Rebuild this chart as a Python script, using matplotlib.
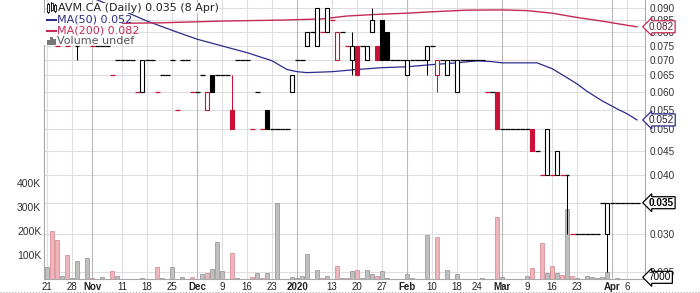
import matplotlib
matplotlib.use("Agg")
import matplotlib.pyplot as plt
import matplotlib.transforms as mtrans
import pandas as pd
from matplotlib.patches import Rectangle
from matplotlib.lines import Line2D
from matplotlib.ticker import FixedLocator, NullLocator, NullFormatter

W, H = 700, 293
RED = "#cc1136"
BLUE = "#2b2b8c"
MA_RED = "#c42a55"
GRID = "#dedede"
GRID_DARK = "#b8b8b8"
AXFONT = "Liberation Sans"

# trading calendar (Canadian holidays removed)
holidays = pd.to_datetime(["2019-12-25", "2019-12-26", "2020-01-01", "2020-02-17"])
days = pd.bdate_range("2019-10-21", "2020-04-08")
days = days[~days.isin(holidays)]

# daily closes, None = no bar drawn
closes = [
    0.085, 0.080, 0.075, 0.080, 0.075, None, 0.075, None, 0.080, 0.075,   # 0-9
    0.075, 0.075, 0.075, 0.065, 0.070, 0.070, 0.070, 0.070, 0.060, 0.070,  # 10-19
    0.070, 0.070, 0.060, 0.065, 0.065, 0.070, 0.055, 0.070, 0.070, 0.060,  # 20-29
    0.060, 0.065, 0.060, 0.060, 0.065, 0.065, 0.065, 0.050, 0.070, 0.070,  # 30-39
    0.070, 0.050, 0.060, 0.050, 0.050, 0.050, 0.050, 0.050, 0.050, 0.065,  # 40-49
    0.070, 0.070, 0.080, 0.080, 0.090, 0.080, 0.090, 0.085, 0.080, 0.080,  # 50-59
    0.075, 0.075, 0.065, 0.075, 0.075, 0.085, 0.070, 0.070, 0.070, 0.070,  # 60-69
    0.070, 0.070, 0.070, 0.070, 0.070, 0.070, 0.075, 0.075, 0.070, 0.070,  # 70-79
    0.070, 0.070, 0.070, 0.070, 0.070, 0.070, 0.070, 0.070, 0.060, 0.060,  # 80-89
    0.050, 0.050, 0.050, 0.050, 0.050, 0.050, 0.050, 0.045, 0.045, 0.040,  # 90-99
    0.050, 0.040, 0.045, 0.040, 0.040, 0.030, 0.030, 0.030, 0.030, 0.030,  # 100-109
    0.030, 0.035, 0.035, 0.035, 0.035, 0.035, 0.035, 0.035, 0.035,         # 110-118
]

# days that are not flat: index -> (open, high, low)
bodies = {
    6: (0.075, 0.075, 0.070), 19: (0.060, 0.070, 0.060),
    32: (0.055, 0.060, 0.055), 33: (0.065, 0.065, 0.060),
    37: (0.055, 0.065, 0.050), 44: (0.055, 0.055, 0.050),
    49: (0.060, 0.065, 0.060), 52: (0.075, 0.080, 0.075),
    54: (0.075, 0.090, 0.075), 56: (0.080, 0.090, 0.080),
    58: (0.070, 0.080, 0.070), 61: (0.070, 0.080, 0.065),
    62: (0.075, 0.075, 0.065), 64: (0.070, 0.075, 0.070),
    65: (0.080, 0.090, 0.080), 66: (0.075, 0.075, 0.070),
    67: (0.085, 0.085, 0.070), 68: (0.080, 0.080, 0.070),
    72: (0.065, 0.070, 0.065), 76: (0.070, 0.075, 0.065),
    78: (0.065, 0.070, 0.060), 80: (0.065, 0.070, 0.065),
    82: (0.060, 0.070, 0.060), 90: (0.060, 0.060, 0.050),
    97: (0.050, 0.050, 0.045), 100: (0.040, 0.050, 0.040),
    102: (0.040, 0.045, 0.040), 104: (0.040, 0.040, 0.030),
    112: (0.030, 0.035, 0.025),
}

# volume, thousands of shares
volume_k = [
    50, 200, 163, 12, 100, 5, 76, 0, 88, 6,
    2, 7, 0, 34, 12, 0, 0, 0, 2, 6,
    0, 0, 50, 3, 0, 50, 2, 7, 0, 7,
    0, 22, 26, 41, 153, 34, 0, 110, 4, 0,
    0, 10, 25, 3, 25, 0, 316, 0, 0, 8,
    3, 13, 105, 0, 38, 6, 12, 2, 55, 3,
    5, 34, 39, 3, 39, 21, 11, 34, 4, 0,
    0, 0, 21, 5, 0, 2, 182, 0, 173, 0,
    39, 0, 21, 0, 0, 0, 0, 3, 1, 0,
    258, 8, 0, 0, 0, 0, 11, 46, 0, 148,
    25, 54, 25, 15, 290, 11, 3, 0, 11, 7,
    4, 8, 30, 0, 3, 0, 0, 0, 0,
]

# moving averages (day index, value)
ma50_idx = [0, 5, 10, 15, 20, 25, 30, 35, 40, 45, 48, 50, 52, 57, 62, 67, 72,
            77, 82, 86, 89, 91, 96, 98, 101, 104, 106, 108, 111, 114, 116, 118]
ma50 = [0.103, 0.098, 0.0937, 0.0891, 0.0845, 0.0808, 0.0774, 0.0749, 0.0725,
        0.0697, 0.0668, 0.0661, 0.0658, 0.0661, 0.0668, 0.0674, 0.0677, 0.0684,
        0.0690, 0.0697, 0.0694, 0.0690, 0.0690, 0.0690, 0.0671, 0.0642, 0.0623,
        0.0601, 0.0574, 0.0552, 0.0539, 0.0523]
ma200_idx = [0, 15, 23, 35, 47, 55, 60, 67, 72, 77, 84, 91, 96, 101, 106, 111, 116, 118]
ma200 = [0.0834, 0.0836, 0.0838, 0.0845, 0.0849, 0.0854, 0.0866, 0.0874, 0.0878,
         0.0884, 0.0891, 0.0892, 0.0889, 0.0878, 0.0860, 0.0845, 0.0828, 0.0822]

tick_dates = ["2019-10-21", "2019-10-28", "2019-11-01", "2019-11-11", "2019-11-18",
              "2019-11-25", "2019-12-02", "2019-12-09", "2019-12-16", "2019-12-23",
              "2020-01-02", "2020-01-13", "2020-01-20", "2020-01-27", "2020-02-03",
              "2020-02-10", "2020-02-18", "2020-02-24", "2020-03-02", "2020-03-09",
              "2020-03-16", "2020-03-23", "2020-04-01", "2020-04-06"]
tick_text = ["21", "28", "Nov", "11", "18", "25", "Dec", "9", "16", "23", "2020",
             "13", "20", "27", "Feb", "10", "18", "24", "Mar", "9", "16", "23",
             "Apr", "6"]
bold_ticks = {"Nov", "Dec", "2020", "Feb", "Mar", "Apr"}

price_ticks = [0.025, 0.030, 0.035, 0.040, 0.045, 0.050, 0.055, 0.060, 0.065,
               0.070, 0.075, 0.080, 0.085, 0.090]
vol_ticks = [100, 200, 300, 400]


def fx(px):
    return px / W


def fy(py):
    return 1 - py / H


fig = plt.figure(figsize=(7, 2.93), dpi=100)
ax = fig.add_axes([fx(44), 14 / H, 601 / W, 279 / H])   # volume, left labels
axp = ax.twinx()                                         # price, log, right labels

ax.set_xlim(-0.6, 119.6)
ax.set_ylim(0, 1162.5)
axp.set_yscale("log")
axp.set_ylim(0.02417, 0.0936)

# grid (drawn under the volume bars)
hgrid = mtrans.blended_transform_factory(ax.transAxes, axp.transData)
for p in price_ticks:
    ax.plot([0, 1], [p, p], transform=hgrid, color=GRID, lw=0.8, zorder=0.5)
tick_pos = [days.get_loc(pd.Timestamp(d)) for d in tick_dates]
for pos, t in zip(tick_pos, tick_text):
    ax.axvline(pos, color=GRID_DARK if t in bold_ticks else GRID, lw=0.8, zorder=0.5)

# colours: down vs previous close
down = []
prev = None
for c in closes:
    down.append(prev is not None and c is not None and c < prev)
    if c is not None:
        prev = c

x = list(range(len(days)))
ax.bar(x, volume_k, width=0.9,
       color=["#efb5bd" if d else "#bfbfbf" for d in down],
       edgecolor=["#d4848f" if d else "#8f8f8f" for d in down],
       lw=0.5, zorder=1)

# candles
for i, c in enumerate(closes):
    if c is None:
        continue
    o, hi, lo = bodies.get(i, (c, c, c))
    col = RED if down[i] else "black"
    if hi > max(o, c) or lo < min(o, c):
        axp.vlines(i, lo, hi, color=col, lw=0.75, zorder=3)
    if o == c:
        w = 0.8 if hi != lo else 1.0
        axp.hlines(c, i - w / 2, i + w / 2, color=col, lw=0.9, zorder=4)
    else:
        axp.add_patch(Rectangle((i - 0.4, min(o, c)), 0.8, abs(c - o),
                                fc="white" if c > o else col, ec=col, lw=0.8, zorder=4))

axp.plot(ma50_idx, ma50, color=BLUE, lw=0.9, zorder=2)
axp.plot(ma200_idx, ma200, color=MA_RED, lw=1.0, zorder=2)

# axes cosmetics
for a in (ax, axp):
    for s in a.spines.values():
        s.set_visible(False)
for s in ("left", "right", "bottom"):
    ax.spines[s].set_visible(True)
    ax.spines[s].set_color("#a8a8a8")
    ax.spines[s].set_linewidth(0.8)

axp.yaxis.set_major_locator(FixedLocator(price_ticks))
axp.yaxis.set_minor_locator(NullLocator())
axp.yaxis.set_minor_formatter(NullFormatter())
axp.set_yticklabels([f"{p:.3f}" for p in price_ticks])
axp.tick_params(axis="y", length=0, pad=3, labelsize=7.2, labelcolor="#333333")

ax.set_yticks(vol_ticks, labels=[f"{v}K" for v in vol_ticks])
ax.tick_params(axis="y", length=0, pad=2, labelsize=7.5, labelcolor="#333333")
ax.set_xticks(tick_pos, labels=tick_text)
ax.tick_params(axis="x", length=0, pad=2.5, labelsize=7, labelcolor="#222222")
for lab in ax.get_xticklabels():
    if lab.get_text() in bold_ticks:
        lab.set_fontweight("bold")
for lab in ax.get_xticklabels() + ax.get_yticklabels() + axp.get_yticklabels():
    lab.set_fontfamily(AXFONT)

# right-hand value tags
tag_x = 1 + 4 / 601
price_tf = mtrans.blended_transform_factory(axp.transAxes, axp.transData)
vol_tf = mtrans.blended_transform_factory(axp.transAxes, ax.transData)
tags = [(price_tf, ma200[-1], "0.082", MA_RED, "#552233", "normal"),
        (price_tf, ma50[-1], "0.052", BLUE, "#222244", "normal"),
        (price_tf, closes[-1], "0.035", "black", "black", "bold"),
        (vol_tf, 7, "7000", "black", "black", "normal")]
for tf, yv, s, ec, tc, wt in tags:
    axp.text(tag_x, yv, s, transform=tf, ha="left", va="center", fontsize=7.2,
             family=AXFONT, color=tc, fontweight=wt, clip_on=False, zorder=10,
             bbox=dict(boxstyle="larrow,pad=0.1", fc="white", ec=ec, lw=0.9))

# legend block (opaque, covers the chart underneath)
fig.add_artist(Rectangle((fx(44), fy(45)), 78 / W, 32 / H, transform=fig.transFigure,
                         fc="white", ec="none", zorder=5))
leg = dict(fontsize=8, family="DejaVu Sans", va="center", zorder=6)
fig.text(fx(58), fy(8), "AVM.CA (Daily) 0.035 (8 Apr)", color="#222222",
         bbox=dict(fc="white", ec="none", pad=0.2), **leg)
fig.text(fx(57), fy(19.5), "MA(50) 0.052", color=BLUE, **leg)
fig.text(fx(57), fy(30.5), "MA(200) 0.082", color=MA_RED, **leg)
fig.text(fx(57), fy(41), "Volume undef", color="#555555", **leg)
fig.add_artist(Line2D([fx(47), fx(56)], [fy(19.5)] * 2, color=BLUE, lw=1.5, zorder=6))
fig.add_artist(Line2D([fx(47), fx(56)], [fy(30.5)] * 2, color=MA_RED, lw=1.5, zorder=6))
for x0, top, bot in [(47, 4, 12), (50.5, 3, 10), (54, 5, 11)]:
    fig.add_artist(Line2D([fx(x0 + 1)] * 2, [fy(top - 1), fy(bot + 1)], color="black",
                          lw=0.6, zorder=7))
    fig.add_artist(Rectangle((fx(x0), fy(bot)), 2 / W, (bot - top) / H,
                             transform=fig.transFigure, fc="white", ec="black",
                             lw=0.6, zorder=8))
for x0, top in [(47, 40), (50, 37), (53, 39)]:
    fig.add_artist(Rectangle((fx(x0), fy(45)), 2.5 / W, (45 - top) / H,
                             transform=fig.transFigure, fc="#777777", ec="none",
                             zorder=7))

# dotted rule under the dates
fig.add_artist(Line2D([0, 1], [fy(291.5)] * 2, color="#aaaaaa", lw=0.8, ls=":", zorder=1))

fig.savefig("out.png", dpi=100)
